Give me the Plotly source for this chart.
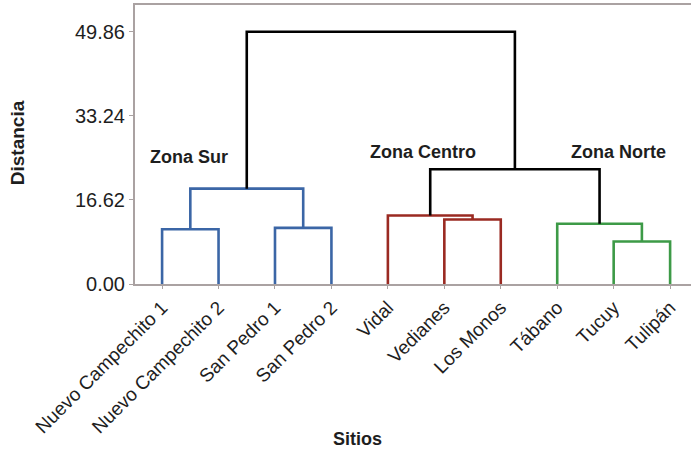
import plotly.graph_objects as go

# ---- data ----
sites = ["Nuevo Campechito 1", "Nuevo Campechito 2", "San Pedro 1", "San Pedro 2",
         "Vidal", "Vedianes", "Los Monos", "Tábano", "Tucuy", "Tulipán"]
# linkage: (left node, right node, height); nodes 0..9 are leaves, 10+ are merges
merge_left = [0, 2, 10, 5, 4, 8, 7, 14, 12]
merge_right = [1, 3, 11, 6, 13, 9, 15, 16, 17]
merge_height = [10.83, 11.10, 18.84, 12.75, 13.55, 8.39, 11.90, 22.67, 49.86]
merge_color = ["#3b66a6", "#3b66a6", "#3b66a6", "#9a2a22", "#9a2a22",
               "#3d9a47", "#3d9a47", "#000000", "#000000"]
y_ticks = [0.0, 16.62, 33.24, 49.86]
zones = ["Zona Sur", "Zona Centro", "Zona Norte"]

# ---- build dendrogram geometry from linkage ----
n = len(sites)
node_x = {i: float(i) for i in range(n)}
node_h = {i: 0.0 for i in range(n)}
fig = go.Figure()
for k, (a, b, h, c) in enumerate(zip(merge_left, merge_right, merge_height, merge_color)):
    xa, xb = node_x[a], node_x[b]
    fig.add_trace(go.Scatter(
        x=[xa, xa, xb, xb], y=[node_h[a], h, h, node_h[b]],
        mode="lines", line=dict(color=c, width=2.6), hoverinfo="skip",
        showlegend=False))
    node_x[n + k] = (xa + xb) / 2
    node_h[n + k] = h

axis_col = "#aaa2a2"
zone_pos = [(0.098, 0.455), (0.518, 0.473), (0.870, 0.473)]
annotations = [
    dict(text=f"<b>{z}</b>", x=px, y=py, xref="paper", yref="paper",
         xanchor="center", yanchor="middle", showarrow=False, font=dict(size=18))
    for z, (px, py) in zip(zones, zone_pos)
]
annotations += [
    dict(text="<b>Distancia</b>", x=-0.212, y=0.505, xref="paper", yref="paper",
         xanchor="center", yanchor="middle", showarrow=False, textangle=-90,
         font=dict(size=19)),
    dict(text="<b>Sitios</b>", x=0.401, y=-0.556, xref="paper", yref="paper",
         xanchor="center", yanchor="middle", showarrow=False, font=dict(size=18)),
]

fig.update_layout(
    width=691, height=451,
    margin=dict(l=135, r=0, t=5, b=167, autoexpand=False),
    paper_bgcolor="white", plot_bgcolor="white",
    font=dict(family="Liberation Sans, Arial, sans-serif", color="#1e1e1e"),
    xaxis=dict(range=[-0.48, 9.37], tickvals=list(range(n)), ticktext=sites,
               tickangle=-45, ticks="outside", ticklen=3, tickcolor=axis_col,
               showline=True, linecolor=axis_col, linewidth=2, mirror=True,
               showgrid=False, zeroline=False, tickfont=dict(size=19),
               automargin=False),
    yaxis=dict(range=[0, 55.14], tickvals=y_ticks,
               ticktext=[f"{v:.2f}" for v in y_ticks],
               ticks="outside", ticklen=4, tickcolor=axis_col,
               showline=True, linecolor=axis_col, linewidth=2,
               showgrid=False, zeroline=False, tickfont=dict(size=20),
               automargin=False),
    annotations=annotations,
)

fig.write_html("out.html", config={"displayModeBar": False},
               post_script="document.body.style.margin='0';document.body.style.padding='0';")
